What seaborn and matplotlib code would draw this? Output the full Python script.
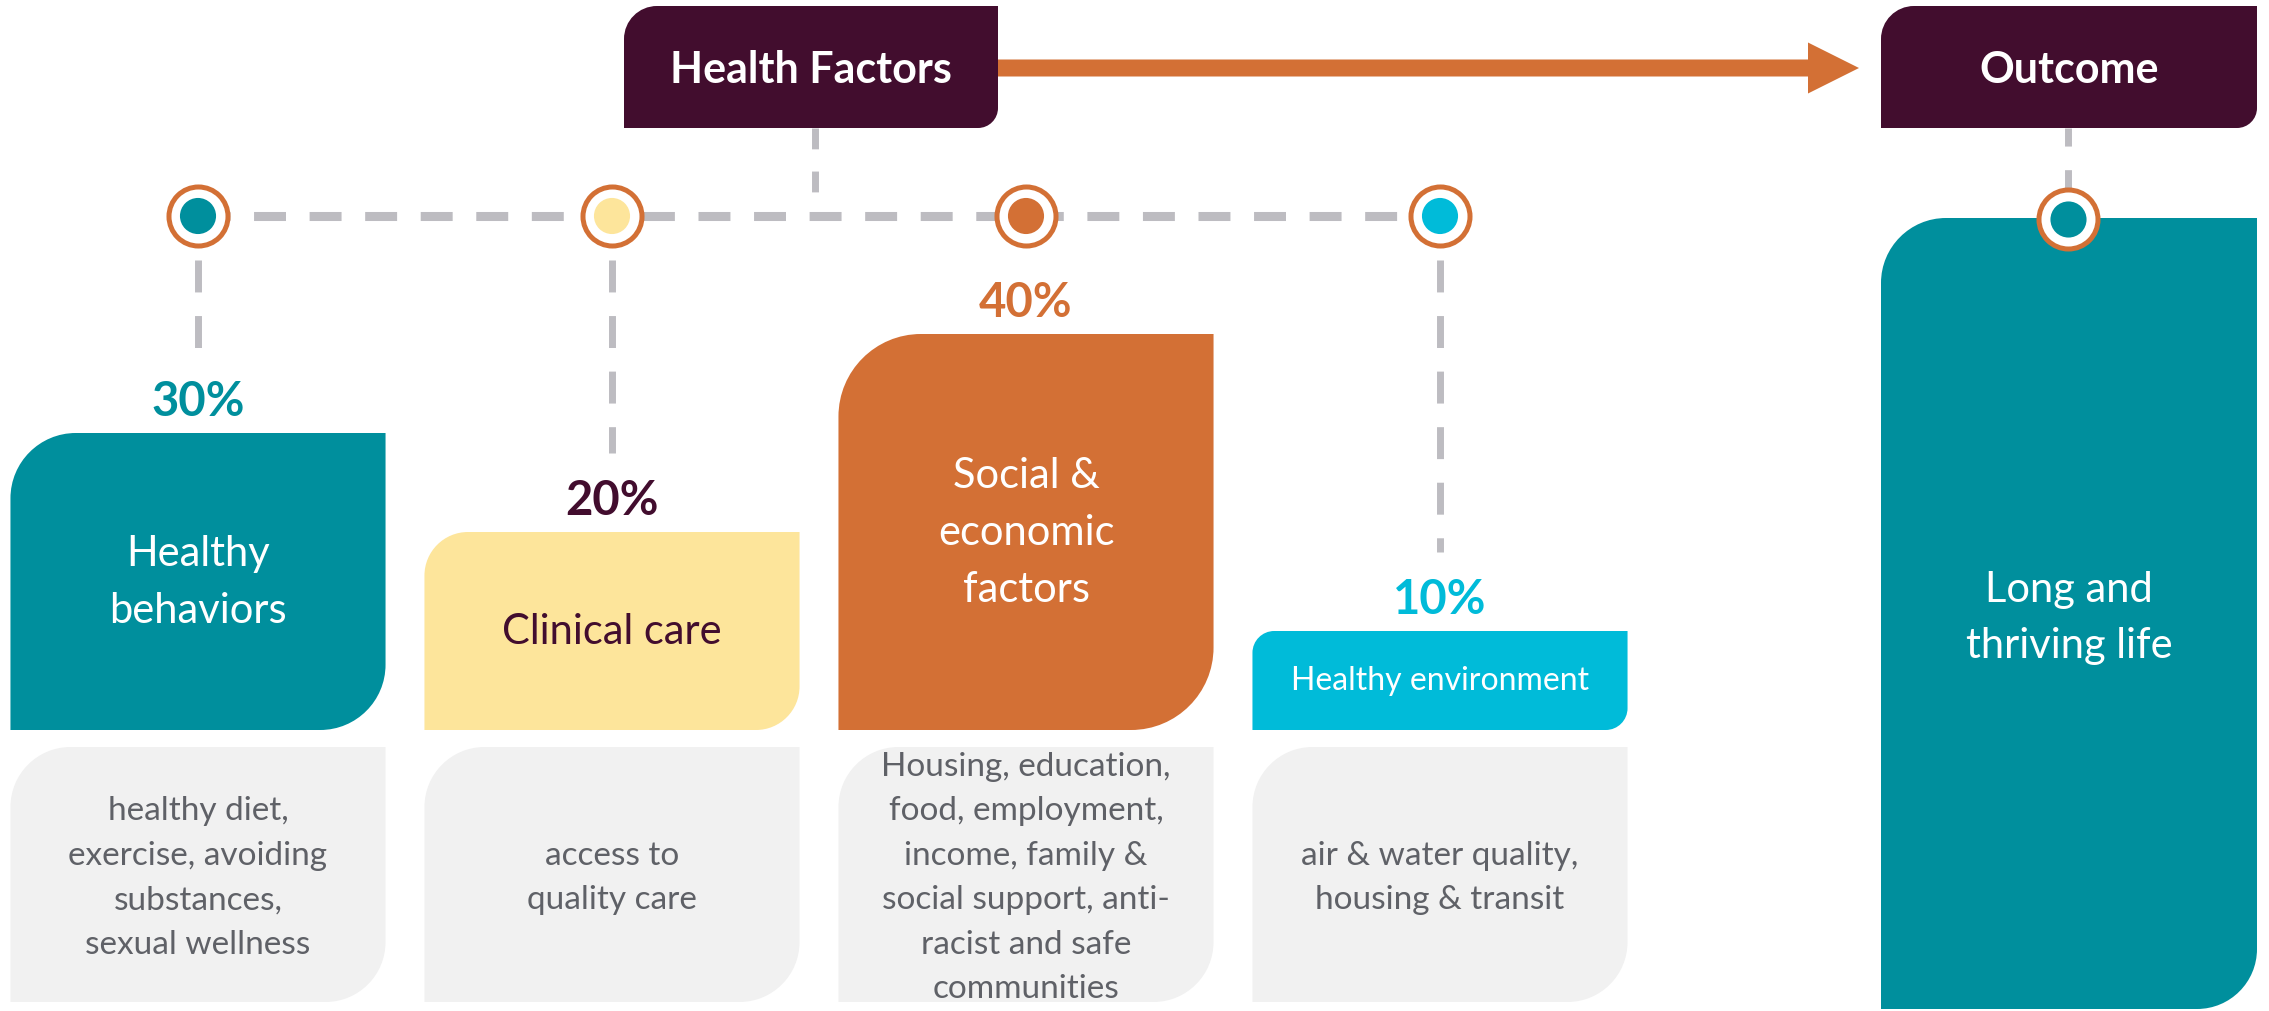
import numpy as np
import pandas as pd
import matplotlib
matplotlib.use("Agg")
import matplotlib.pyplot as plt
import seaborn as sns
from matplotlib.path import Path
from matplotlib.patches import PathPatch, FancyArrow

# ----------------------------
# DATA
# ----------------------------
factors = ["Healthy\nbehaviors", "Clinical care", "Social &\neconomic\nfactors", "Healthy environment"]
shares = [30, 20, 40, 10]
pct_labels = ["30%", "20%", "40%", "10%"]
details = [
    "healthy diet,\nexercise, avoiding\nsubstances,\nsexual wellness",
    "access to\nquality care",
    "Housing, education,\nfood, employment,\nincome, family &\nsocial support, anti-\nracist and safe\ncommunities",
    "air & water quality,\nhousing & transit",
]
header_left = "Health Factors"
header_right = "Outcome"
outcome_text = "Long and\nthriving life"

# ----------------------------
# STYLE
# ----------------------------
TEAL, YELLOW, ORANGE, CYAN = "#008F9D", "#FDE59B", "#D37035", "#00BBD9"
PLUM, DASH, CARD, GREYTXT = "#420D2E", "#BDBCC1", "#F1F1F1", "#5F6167"
box_colors = [TEAL, YELLOW, ORANGE, CYAN]
label_colors = [TEAL, PLUM, ORANGE, CYAN]
name_colors = ["white", PLUM, "white", "white"]
name_sizes = [30, 30, 30, 23]

W, H, DPI = 2269, 1012, 100
BASE_PX, PX_PER_PCT, FIRST_X, STEP_X = 731, 9.9, 198, 414
K = 0.5523

sns.set_theme(style="white")
plt.rcParams["font.family"] = ["Lato", "DejaVu Sans"]
plt.rcParams["lines.scale_dashes"] = False

fig = plt.figure(figsize=(W / DPI, H / DPI), dpi=DPI)
ax = fig.add_axes([0, 0, 1, 1])          # pixel canvas for the layout pieces
ax.set_xlim(0, W)
ax.set_ylim(H, 0)
ax.axis("off")
bx = fig.add_axes([0, 0, 1, 1])          # bar axes (category x, percent y)


def corner_box(x0, x1, top, bottom, r1, r2):
    # rounded top-left and bottom-right corners, y grows downward
    verts = [(x0, bottom), (x0, top + r1),
             (x0, top + r1 * (1 - K)), (x0 + r1 * (1 - K), top), (x0 + r1, top),
             (x1, top), (x1, bottom - r2),
             (x1, bottom - r2 * (1 - K)), (x1 - r2 * (1 - K), bottom), (x1 - r2, bottom),
             (x0, bottom)]
    codes = [Path.MOVETO, Path.LINETO,
             Path.CURVE4, Path.CURVE4, Path.CURVE4,
             Path.LINETO, Path.LINETO,
             Path.CURVE4, Path.CURVE4, Path.CURVE4,
             Path.CLOSEPOLY]
    return Path(verts, codes)


# ----------------------------
# BARS
# ----------------------------
df = pd.DataFrame({"factor": factors, "share": shares})
sns.barplot(data=df, x="factor", y="share", hue="factor", palette=box_colors,
            saturation=1, width=0.906, legend=False, errorbar=None, ax=bx)
bx.set_xlim(-FIRST_X / STEP_X, (W - FIRST_X) / STEP_X)
bx.set_ylim(-(H - BASE_PX) / PX_PER_PCT, BASE_PX / PX_PER_PCT)
bx.axis("off")
bx.patch.set_visible(False)


def to_px(x, y):
    return ax.transData.inverted().transform(bx.transData.transform((x, y)))


for i, bar in enumerate(bx.patches):
    x0, yb = to_px(bar.get_x(), 0)
    x1, yt = to_px(bar.get_x() + bar.get_width(), bar.get_height())
    r = 0.22 * min(x1 - x0, yb - yt)
    bar.set_edgecolor("none")
    bar.set_clip_path(PathPatch(corner_box(x0, x1, yt, yb, r, r), transform=ax.transData))

    bx.text(i, shares[i] / 2, factors[i], ha="center", va="center",
            color=name_colors[i], fontsize=name_sizes[i], linespacing=1.6)
    bx.annotate(pct_labels[i], (i, shares[i]), xytext=(0, 13), textcoords="offset points",
                ha="center", va="baseline", fontsize=34, fontweight="bold",
                color=label_colors[i])

    # grey detail card under each bar
    ax.add_patch(PathPatch(corner_box(x0, x1, yb + 17, yb + 272, 60, 60),
                           facecolor=CARD, edgecolor="none"))
    ax.text((x0 + x1) / 2, yb + 147, details[i], ha="center", va="center",
            color=GREYTXT, fontsize=24, linespacing=1.6)

# dotted connectors and node circles
n = len(shares)
lvl = (BASE_PX - 217) / PX_PER_PCT
bx.plot([0, n - 1], [lvl, lvl], color=DASH, lw=6.5, dashes=(23, 17), zorder=1,
        solid_capstyle="butt", dash_capstyle="butt")
for i in range(n):
    end = shares[i] + 8
    if end < lvl - 4:
        bx.plot([i, i], [lvl - 4.4, end], color=DASH, lw=5, dashes=(23, 17), zorder=1,
                dash_capstyle="butt")
bx.scatter(range(n), [lvl] * n, s=1806, facecolor="white", edgecolor=ORANGE,
           linewidth=3.6, zorder=4)
bx.scatter(range(n), [lvl] * n, s=676, c=box_colors, linewidth=0, zorder=5)

# ----------------------------
# HEADERS, ARROW, OUTCOME
# ----------------------------
ax.plot([815, 815], [129, 217], color=DASH, lw=5, dashes=(15, 16), zorder=1)
ax.plot([2068, 2068], [129, 200], color=DASH, lw=5, dashes=(13, 17), zorder=1)

ax.add_patch(PathPatch(corner_box(624, 998, 7, 129, 33, 20), facecolor=PLUM, edgecolor="none"))
ax.add_patch(PathPatch(corner_box(1881, 2257, 7, 129, 33, 20), facecolor=PLUM, edgecolor="none"))
ax.text(811, 70, header_left, ha="center", va="center", color="white",
        fontsize=31, fontweight="bold")
ax.text(2069, 70, header_right, ha="center", va="center", color="white",
        fontsize=31, fontweight="bold")

ax.add_patch(FancyArrow(998, 69, 1859 - 998, 0, width=17, head_width=51, head_length=51,
                        length_includes_head=True, color=ORANGE, lw=0))

ax.add_patch(PathPatch(corner_box(1881, 2257, 219, 1010, 65, 60), facecolor=TEAL,
                       edgecolor="none", zorder=2))
ax.text(2069, 618, outcome_text, ha="center", va="center", color="white",
        fontsize=30, linespacing=1.6, zorder=3)
ax.scatter([2068], [220], s=1806, facecolor="white", edgecolor=ORANGE, linewidth=3.6, zorder=4)
ax.scatter([2068], [220], s=676, color=TEAL, linewidth=0, zorder=5)

fig.savefig("out.png", dpi=DPI)
